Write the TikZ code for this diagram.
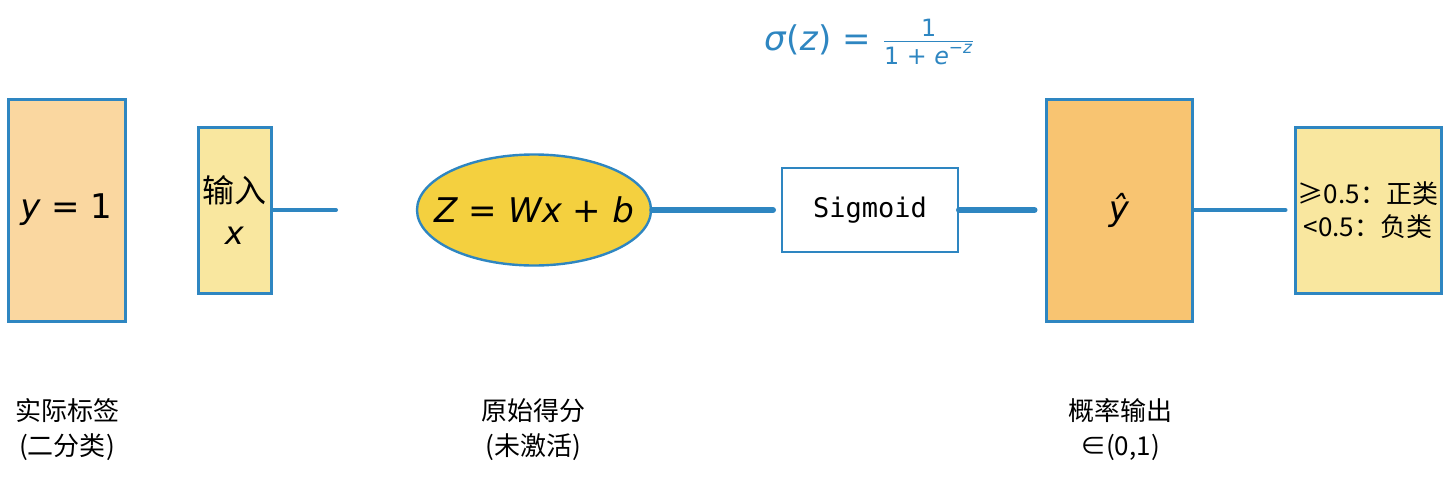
\documentclass[tikz,border=0pt]{standalone}
\usepackage{fontspec}
\usepackage{amsmath}
\setmainfont{DejaVu Sans}
\newfontfamily\cjk{Noto Sans CJK SC}
\newfontfamily\monofont{DejaVu Sans Mono}
\usetikzlibrary{shapes.geometric}
\definecolor{edgeblue}{RGB}{46, 134, 193}
\definecolor{labelorange}{RGB}{250, 215, 160}
\definecolor{paleyellow}{RGB}{249, 231, 159}
\definecolor{scoregold}{RGB}{244, 208, 63}
\definecolor{probamber}{RGB}{248, 196, 113}

\begin{document}
\begin{tikzpicture}[x=0.5pt, y=-0.5pt,
    block/.style={draw=edgeblue, line width=1.5pt, inner sep=0pt},
    link/.style={draw=edgeblue, line cap=round},
    caption/.style={font=\cjk\fontsize{13}{17.5}\selectfont, align=center}]
    \useasboundingbox (0,0) rectangle (1449,477);

    % Ground truth label and input
    \node[block, fill=labelorange, minimum width=58.5pt, minimum height=111pt, font=\fontsize{17}{20}\selectfont] (truth) at (66.5,210) {\textit{y} = 1};
    \node[block, fill=paleyellow, minimum width=36.5pt, minimum height=83pt, align=center, font=\fontsize{16}{21}\selectfont] (input) at (234.5,210) {{\cjk 输入}\\\textit{x}};

    % Linear score and sigmoid
    \node[block, ellipse, fill=scoregold, line width=1.2pt, minimum width=117pt, minimum height=55.5pt, font=\fontsize{17}{20}\selectfont] (score) at (534,210) {\makebox[0pt]{\textit{Z} = \textit{Wx} + \textit{b}}};
    \node[block, fill=white, line width=1pt, minimum width=88pt, minimum height=42pt, font=\monofont\fontsize{13.5}{16}\selectfont] (sigmoid) at (870,210) {Sigmoid};
    \node[text=edgeblue, font=\fontsize{17}{20}\selectfont] (sigmafn) at (870,42) {\textit{σ}(\textit{z}) = $\frac{\text{1}}{\text{1 + \textit{e}}^{\text{−\textit{z}}}}$};

    % Probability and decision
    \node[block, fill=probamber, minimum width=73pt, minimum height=111pt, font=\fontsize{17}{20}\selectfont] (prob) at (1119,210) {\textit{ŷ}};
    \node[block, fill=paleyellow, minimum width=73pt, minimum height=83pt, align=center, font=\cjk\fontsize{13}{16.5}\selectfont] (decision) at (1368,210) {≥0.5：正类\\<0.5：负类};

    % Connectors
    \coordinate (inputend) at (336,210);
    \draw[link, line width=2pt] (input) -- (inputend);
    \draw[link, line width=3pt, shorten >=4pt] (score) -- (sigmoid);
    \draw[link, line width=3pt, shorten >=5pt] (sigmoid) -- (prob);
    \draw[link, line width=2pt, shorten >=4pt] (prob) -- (decision);

    % Captions
    \node[caption] (truthcap) at (67,430) {实际标签\\(二分类)};
    \node[caption] (scorecap) at (533,430) {原始得分\\(未激活)};
    \node[caption] (probcap) at (1120,430) {概率输出\\∈(0,1)};
\end{tikzpicture}
\end{document}
